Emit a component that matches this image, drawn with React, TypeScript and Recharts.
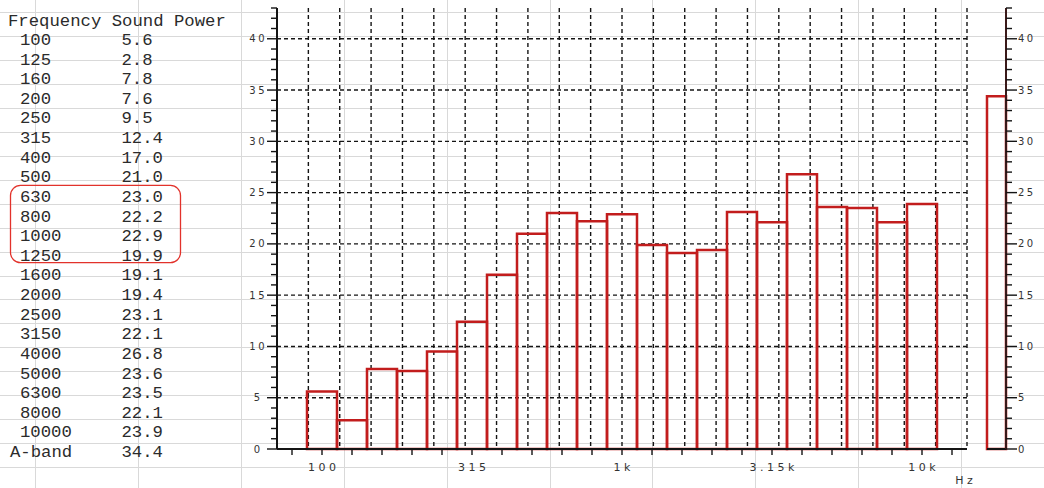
import React from 'react';
import { BarChart, Bar, XAxis, YAxis, CartesianGrid, ReferenceLine } from 'recharts';

// one-third-octave bands and their sound power
const FREQUENCIES = [100, 125, 160, 200, 250, 315, 400, 500, 630, 800, 1000, 1250, 1600, 2000, 2500, 3150, 4000, 5000, 6300, 8000, 10000];
const SOUND_POWER = [5.6, 2.8, 7.8, 7.6, 9.5, 12.4, 17.0, 21.0, 23.0, 22.2, 22.9, 19.9, 19.1, 19.4, 23.1, 22.1, 26.8, 23.6, 23.5, 22.1, 23.9];
const A_BAND_LABEL = 'A-band';
const A_BAND_VALUE = 34.4;
const HIGHLIGHTED = [630, 800, 1000, 1250];

// only these bands get a label under the axis
const FREQ_LABELS: Record<string, string> = { '100': '100', '315': '315', '1000': '1k', '3150': '3.15k', '10000': '10k' };
const Y_MAX = 43;
const Y_TICKS = Array.from({ length: Y_MAX + 1 }, (_, i) => i);
const Y_GRID = [5, 10, 15, 20, 25, 30, 35, 40];
const TOP_FRAME_FROM = 4.5; // the top border starts over the 200 Hz band

const RED = '#c21d1d';
const INK = '#141414';
const SHEET = '#d9d9d9';
const AXIS_FONT = "'DejaVu Sans', sans-serif";

const slotData = [
  { slot: 'lo', value: null as number | null },
  ...FREQUENCIES.map((f, i) => ({ slot: String(f), value: SOUND_POWER[i] as number | null })),
  { slot: 'hi', value: null as number | null },
];
const slotEdges = slotData.slice(1).map((_, i) => i + 1);
const aBandData = [{ name: A_BAND_LABEL, value: A_BAND_VALUE }];

const rowY = (i: number) => 45 + i * 19.62;

const SheetGrid = () => {
  const cols: number[] = [];
  for (let x = 35; x < 1044; x += 102.9) cols.push(Math.round(x) + 0.5);
  const rows: number[] = [];
  for (let y = 12.1; y < 488; y += 23.95) rows.push(Math.round(y) + 0.5);
  return (
    <svg width={1044} height={488} style={{ position: 'absolute', left: 0, top: 0 }}>
      {cols.map((x) => <line key={'c' + x} x1={x} x2={x} y1={0} y2={488} stroke={SHEET} />)}
      {rows.map((y) => <line key={'r' + y} x1={0} x2={1044} y1={y} y2={y} stroke={SHEET} />)}
    </svg>
  );
};

const DataTable = () => {
  const first = FREQUENCIES.indexOf(HIGHLIGHTED[0]);
  const last = FREQUENCIES.indexOf(HIGHLIGHTED[HIGHLIGHTED.length - 1]);
  return (
    <svg width={1044} height={488} style={{ position: 'absolute', left: 0, top: 0 }}>
      <g fontFamily="'Liberation Mono', monospace" fontSize={17.3} fill="#2b2b2b">
        <text x={8} y={26}>Frequency Sound Power</text>
        {FREQUENCIES.map((f, i) => (
          <g key={f}>
            <text x={20} y={rowY(i)}>{f}</text>
            <text x={121.5} y={rowY(i)}>{SOUND_POWER[i].toFixed(1)}</text>
          </g>
        ))}
        <text x={10} y={rowY(FREQUENCIES.length)}>{A_BAND_LABEL}</text>
        <text x={121.5} y={rowY(FREQUENCIES.length)}>{A_BAND_VALUE.toFixed(1)}</text>
      </g>
      <rect
        x={10.5}
        y={rowY(first) - 16.5}
        width={170}
        height={rowY(last) - rowY(first) + 18.3}
        rx={10}
        fill="none"
        stroke="#e2322b"
        strokeWidth={1.3}
      />
      <text x={964} y={484} textAnchor="middle" fontFamily={AXIS_FONT} fontSize={11} letterSpacing={3.5} dx={1.7} fill="#333">
        Hz
      </text>
    </svg>
  );
};

const LeftTick = (props: any) => {
  const { x, y, payload } = props;
  const v = payload.value as number;
  const major = v % 5 === 0;
  return (
    <g>
      <line x1={x} x2={x - (major ? 10 : 6)} y1={y} y2={y} stroke={INK} strokeWidth={1.4} />
      {major && v <= 40 && (
        <text x={x - 20} y={y} dy="0.36em" dx={1.2} textAnchor="middle" fontFamily={AXIS_FONT} fontSize={10} letterSpacing={2.5} fill="#333">
          {v}
        </text>
      )}
    </g>
  );
};

const RightTick = (props: any) => {
  const { x, y, payload } = props;
  const v = payload.value as number;
  const major = v % 5 === 0;
  return (
    <g>
      <line x1={x} x2={x + (major ? 11 : 6)} y1={y} y2={y} stroke={INK} strokeWidth={1.4} />
      {major && v <= 40 && (
        <text x={x + 12} y={y} dy="0.36em" textAnchor="start" fontFamily={AXIS_FONT} fontSize={10} letterSpacing={2.5} fill="#333">
          {v}
        </text>
      )}
    </g>
  );
};

const FreqTick = (props: any) => {
  const { x, y, payload } = props;
  const label = FREQ_LABELS[payload.value];
  return (
    <g>
      <line x1={x} x2={x} y1={y} y2={y + 6} stroke={INK} strokeWidth={1.4} />
      {label && (
        <text x={x} y={y + 22} dx={1.7} textAnchor="middle" fontFamily={AXIS_FONT} fontSize={11} letterSpacing={3.5} fill="#333">
          {label}
        </text>
      )}
    </g>
  );
};

const SpectrumChart = () => (
  <div style={{ position: 'absolute', left: 0, top: 0 }}>
    <BarChart
      width={1044}
      height={488}
      data={slotData}
      margin={{ top: 8, right: 77, bottom: 9, left: 227 }}
      barCategoryGap={0}
      barGap={0}
    >
      <XAxis xAxisId="slot" type="number" domain={[0, slotData.length]} hide />
      <CartesianGrid
        xAxisId="slot"
        horizontalValues={Y_GRID}
        verticalValues={slotEdges}
        stroke={INK}
        strokeWidth={1.4}
        strokeDasharray="4 3"
      />
      <XAxis
        dataKey="slot"
        interval={0}
        height={30}
        tickSize={0}
        tickMargin={0}
        tickLine={false}
        axisLine={{ stroke: INK, strokeWidth: 2 }}
        tick={(p: any) => <FreqTick {...p} />}
      />
      <YAxis
        type="number"
        domain={[0, Y_MAX]}
        ticks={Y_TICKS}
        interval={0}
        width={50}
        tickSize={0}
        tickMargin={0}
        tickLine={false}
        axisLine={{ stroke: INK, strokeWidth: 2 }}
        tick={(p: any) => <LeftTick {...p} />}
      />
      <YAxis
        yAxisId="frame"
        orientation="right"
        domain={[0, Y_MAX]}
        width={0}
        tick={false}
        tickLine={false}
        axisLine={{ stroke: INK, strokeWidth: 2 }}
      />
      <ReferenceLine
        xAxisId="slot"
        segment={[{ x: TOP_FRAME_FROM, y: Y_MAX }, { x: slotData.length, y: Y_MAX }]}
        stroke={INK}
        strokeWidth={2}
      />
      <Bar dataKey="value" fill="none" stroke={RED} strokeWidth={2.5} isAnimationActive={false} />
    </BarChart>
  </div>
);

const ABandChart = () => (
  <div style={{ position: 'absolute', left: 960, top: 0 }}>
    <BarChart
      width={84}
      height={488}
      data={aBandData}
      margin={{ top: 8, right: 0, bottom: 9, left: 27 }}
      barCategoryGap={0}
    >
      <XAxis dataKey="name" height={30} tick={false} tickLine={false} axisLine={{ stroke: INK, strokeWidth: 2 }} />
      <YAxis
        yAxisId="left"
        orientation="left"
        domain={[0, Y_MAX]}
        width={0}
        tick={false}
        tickLine={false}
        axisLine={{ stroke: INK, strokeWidth: 2 }}
      />
      <YAxis
        orientation="right"
        domain={[0, Y_MAX]}
        ticks={Y_TICKS}
        interval={0}
        width={38}
        tickSize={0}
        tickMargin={0}
        tickLine={false}
        axisLine={{ stroke: '#3a1a1a', strokeWidth: 2 }}
        tick={(p: any) => <RightTick {...p} />}
      />
      <Bar dataKey="value" fill="none" stroke={RED} strokeWidth={2.5} isAnimationActive={false} />
    </BarChart>
  </div>
);

export default function App() {
  return (
    <div style={{ position: 'absolute', left: 0, top: 0, width: 1044, height: 488, background: '#fff', overflow: 'hidden' }}>
      <SheetGrid />
      <DataTable />
      <SpectrumChart />
      <ABandChart />
    </div>
  );
}
